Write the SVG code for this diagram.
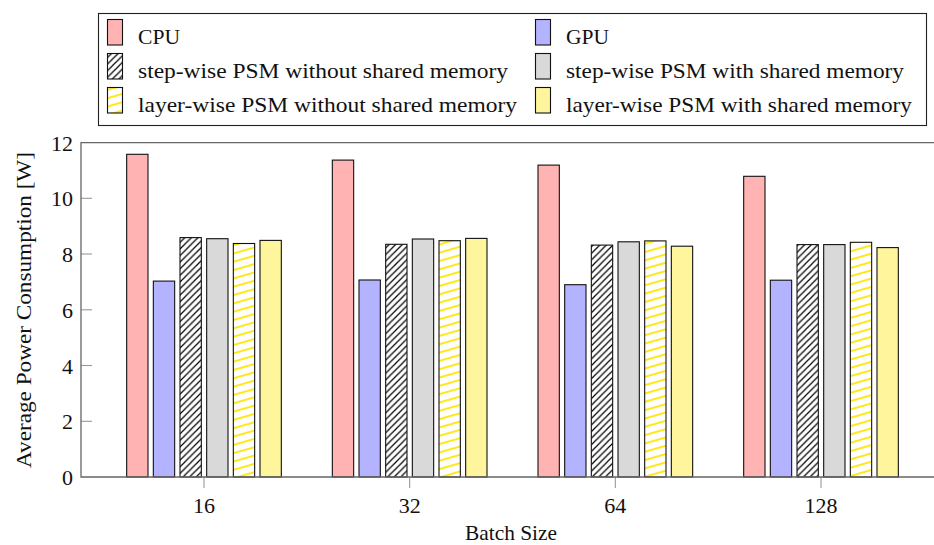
<svg xmlns="http://www.w3.org/2000/svg" width="934" height="545" viewBox="0 0 934 545">
<defs>
<style>
text{font-family:"Liberation Serif","Times New Roman",serif;font-size:22px;fill:#111}
.bar{stroke:#111;stroke-width:1.1}
.cpu{fill:#ffb3b3}
.gpu{fill:#b3b3ff}
.sw{fill:url(#ne)}
.gr{fill:#d9d9d9}
.lw{fill:url(#yl)}
.ye{fill:#fff59d}
.axis{stroke:#666;stroke-width:1.3;fill:none}
.tick{stroke:#999;stroke-width:1.1}
.yt{text-anchor:end}
.xt{text-anchor:middle}
</style>
<pattern id="ne" patternUnits="userSpaceOnUse" width="6.6" height="6.6">
<rect width="6.6" height="6.6" fill="#fff"/>
<path d="M0,6.6 L6.6,0 M-3.3,3.3 L3.3,-3.3 M3.3,9.9 L9.9,3.3" stroke="#000" stroke-width="1.2"/>
</pattern>
<pattern id="yl" patternUnits="userSpaceOnUse" width="12" height="8" patternTransform="rotate(-16)">
<rect width="12" height="8" fill="#fff"/>
<path d="M-1,4 L13,4" stroke="#ffe600" stroke-width="1.8"/>
</pattern>
</defs>
<rect width="934" height="545" fill="#fff"/>

<g id="legend">
<rect x="98.5" y="13.5" width="828" height="112" fill="#fff" stroke="#222" stroke-width="1.1"/>
<rect class="bar cpu" x="107.5" y="19.5" width="15" height="25.5"/>
<text x="138" y="44" textLength="42" lengthAdjust="spacingAndGlyphs">CPU</text>
<rect class="bar sw" x="107.5" y="53.5" width="15" height="25.5"/>
<text x="138" y="78" textLength="370" lengthAdjust="spacingAndGlyphs">step-wise PSM without shared memory</text>
<rect class="bar lw" x="107.5" y="87.5" width="15" height="25.5"/>
<text x="138" y="112" textLength="379" lengthAdjust="spacingAndGlyphs">layer-wise PSM without shared memory</text>
<rect class="bar gpu" x="535.5" y="19.5" width="15" height="25.5"/>
<text x="566" y="44" textLength="43" lengthAdjust="spacingAndGlyphs">GPU</text>
<rect class="bar gr" x="535.5" y="53.5" width="15" height="25.5"/>
<text x="566" y="78" textLength="338" lengthAdjust="spacingAndGlyphs">step-wise PSM with shared memory</text>
<rect class="bar ye" x="535.5" y="87.5" width="15" height="25.5"/>
<text x="566" y="112" textLength="346" lengthAdjust="spacingAndGlyphs">layer-wise PSM with shared memory</text>
</g>

<g id="cpu-bars">
<rect class="bar cpu" x="126.67" y="154.3" width="21.33" height="322.7"/>
<rect class="bar cpu" x="332.33" y="160.1" width="21.33" height="316.9"/>
<rect class="bar cpu" x="538" y="165.1" width="21.33" height="311.9"/>
<rect class="bar cpu" x="743.67" y="176.3" width="21.33" height="300.7"/>
</g>
<g id="gpu-bars">
<rect class="bar gpu" x="153.33" y="281.1" width="21.33" height="195.9"/>
<rect class="bar gpu" x="359" y="280" width="21.33" height="197"/>
<rect class="bar gpu" x="564.67" y="284.7" width="21.33" height="192.3"/>
<rect class="bar gpu" x="770.33" y="280.2" width="21.33" height="196.8"/>
</g>
<g id="stepwise-noshared-bars">
<rect class="bar sw" x="180" y="237.6" width="21.33" height="239.4"/>
<rect class="bar sw" x="385.67" y="244.3" width="21.33" height="232.7"/>
<rect class="bar sw" x="591.33" y="245.1" width="21.33" height="231.9"/>
<rect class="bar sw" x="797" y="244.6" width="21.33" height="232.4"/>
</g>
<g id="stepwise-shared-bars">
<rect class="bar gr" x="206.67" y="238.7" width="21.33" height="238.3"/>
<rect class="bar gr" x="412.33" y="239" width="21.33" height="238"/>
<rect class="bar gr" x="618" y="241.8" width="21.33" height="235.2"/>
<rect class="bar gr" x="823.67" y="244.6" width="21.33" height="232.4"/>
</g>
<g id="layerwise-noshared-bars">
<rect class="bar lw" x="233.33" y="243.5" width="21.33" height="233.5"/>
<rect class="bar lw" x="439" y="240.7" width="21.33" height="236.3"/>
<rect class="bar lw" x="644.67" y="240.9" width="21.33" height="236.1"/>
<rect class="bar lw" x="850.33" y="242.3" width="21.33" height="234.7"/>
</g>
<g id="layerwise-shared-bars">
<rect class="bar ye" x="260" y="240.4" width="21.33" height="236.6"/>
<rect class="bar ye" x="465.67" y="238.4" width="21.33" height="238.6"/>
<rect class="bar ye" x="671.33" y="246.2" width="21.33" height="230.8"/>
<rect class="bar ye" x="877" y="247.6" width="21.33" height="229.4"/>
</g>

<g id="axes">
<g class="tick">
<line x1="81" y1="421.3" x2="92" y2="421.3"/>
<line x1="81" y1="365.5" x2="92" y2="365.5"/>
<line x1="81" y1="309.8" x2="92" y2="309.8"/>
<line x1="81" y1="254" x2="92" y2="254"/>
<line x1="81" y1="198.3" x2="92" y2="198.3"/>
<line x1="204" y1="477" x2="204" y2="488"/>
<line x1="409.67" y1="477" x2="409.67" y2="488"/>
<line x1="615.33" y1="477" x2="615.33" y2="488"/>
<line x1="821" y1="477" x2="821" y2="488"/>
</g>
<path class="axis" d="M934,142.7 H81 V477 H934"/>
<text class="yt" x="73" y="485">0</text>
<text class="yt" x="73" y="429.3">2</text>
<text class="yt" x="73" y="373.5">4</text>
<text class="yt" x="73" y="317.8">6</text>
<text class="yt" x="73" y="262">8</text>
<text class="yt" x="73" y="206.3">10</text>
<text class="yt" x="73" y="150.7">12</text>
<text class="xt" x="204" y="513">16</text>
<text class="xt" x="409.67" y="513">32</text>
<text class="xt" x="615.33" y="513">64</text>
<text class="xt" x="821" y="513">128</text>
<text class="xt" x="511" y="540" textLength="92" lengthAdjust="spacingAndGlyphs">Batch Size</text>
<text class="xt" transform="translate(31,310) rotate(-90)" textLength="316" lengthAdjust="spacingAndGlyphs">Average Power Consumption [W]</text>
</g>
</svg>
